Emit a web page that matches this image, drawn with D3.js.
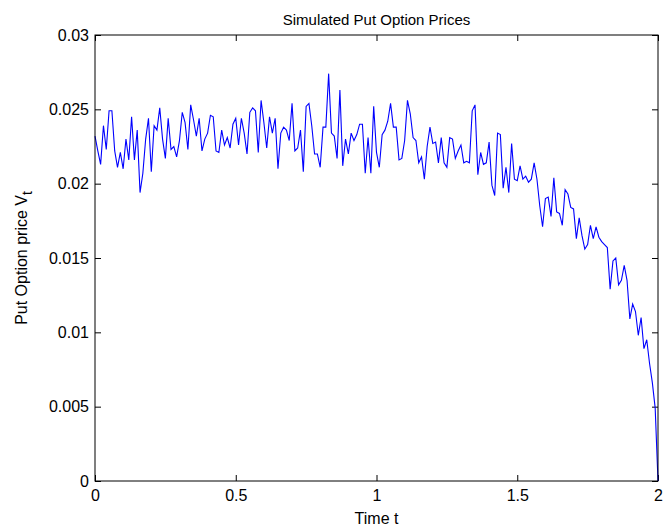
<!DOCTYPE html>
<html>
<head>
<meta charset="utf-8">
<script src="https://cdn.jsdelivr.net/npm/d3@7"></script>
<style>
  body { margin: 0; background: #fff; }
  text { font-family: "Liberation Sans", Arial, Helvetica, sans-serif; }
</style>
</head>
<body>
<div id="chart"></div>
<script>
// Put option price along one simulated path, t = 0 .. 2 (201 samples)
var putPrices = [
  0.0232, 0.0222, 0.0213, 0.0239, 0.0223, 0.0249, 0.0249, 0.0222, 0.0211, 0.0221,
  0.0210, 0.0230, 0.0216, 0.0245, 0.0216, 0.0236, 0.0194, 0.0207, 0.0230, 0.0244,
  0.0208, 0.0239, 0.0236, 0.0251, 0.0230, 0.0217,
  0.0244, 0.0223, 0.0225, 0.0218, 0.0229, 0.0248, 0.0241, 0.0223, 0.0253, 0.0243,
  0.0232, 0.0244, 0.0222, 0.0230, 0.0234, 0.0246, 0.0245, 0.0222, 0.0221, 0.0236,
  0.0226, 0.0231, 0.0224, 0.0240, 0.0244,
  0.0226, 0.0244, 0.0234, 0.0220, 0.0248, 0.0251, 0.0249, 0.0221, 0.0256, 0.0241,
  0.0224, 0.0245, 0.0234, 0.0244, 0.0210, 0.0234, 0.0238, 0.0236, 0.0229, 0.0254,
  0.0222, 0.0224, 0.0236, 0.0208, 0.0252,
  0.0254, 0.0239, 0.0220, 0.0220, 0.0211, 0.0238, 0.0238, 0.0274, 0.0234, 0.0232,
  0.0217, 0.0263, 0.0212, 0.0230, 0.0220, 0.0234, 0.0229, 0.0233, 0.0240, 0.0240,
  0.0207, 0.0231, 0.0207, 0.0252,
  0.0221, 0.0211, 0.0233, 0.0236, 0.0242, 0.0254, 0.0238, 0.0238, 0.0216, 0.0217,
  0.0229, 0.0256, 0.0247, 0.0231, 0.0229, 0.0214, 0.0218, 0.0203, 0.0225, 0.0238,
  0.0227, 0.0228, 0.0214, 0.0231, 0.0214, 0.0211,
  0.0231, 0.0230, 0.0217, 0.0222, 0.0226, 0.0214, 0.0215, 0.0214, 0.0249, 0.0253,
  0.0206, 0.0221, 0.0213, 0.0214, 0.0228, 0.0199, 0.0192, 0.0234, 0.0233, 0.0197,
  0.0211, 0.0194, 0.0227, 0.0203,
  0.0202, 0.0212, 0.0203, 0.0205, 0.0201, 0.0203, 0.0214, 0.0203, 0.0185, 0.0171,
  0.0190, 0.0191, 0.0178, 0.0204, 0.0181, 0.0180, 0.0172, 0.0196, 0.0193, 0.0184,
  0.0183, 0.0163, 0.0177, 0.0165, 0.0156,
  0.0159, 0.0172, 0.0163, 0.0171, 0.0164, 0.0161, 0.0159, 0.0157, 0.0129, 0.0148,
  0.0150, 0.0132, 0.0135, 0.0145, 0.0135, 0.0109, 0.0119, 0.0114, 0.0098, 0.0110,
  0.0089, 0.0095, 0.0079, 0.0066, 0.0049, 0
];

var timeRange = [0, 2];
var priceRange = [0, 0.03];

var xTicks = [0, 0.5, 1, 1.5, 2];
var xTickLabels = ["0", "0.5", "1", "1.5", "2"];
var yTicks = [0, 0.005, 0.01, 0.015, 0.02, 0.025, 0.03];
var yTickLabels = ["0", "0.005", "0.01", "0.015", "0.02", "0.025", "0.03"];

var titleText = "Simulated Put Option Prices";
var xLabelText = "Time t";
var yLabelText = "Put Option price V";

// chart size
var svgWidth = 665;
var svgHeight = 531;
var margin = { top: 35, right: 7, bottom: 50, left: 95 };
var width = svgWidth - margin.left - margin.right;
var height = svgHeight - margin.top - margin.bottom;

var svg = d3.select("#chart")
  .append("svg")
  .attr("width", svgWidth)
  .attr("height", svgHeight);

svg.append("rect")
  .attr("width", svgWidth)
  .attr("height", svgHeight)
  .attr("fill", "#fff");

var chartGroup = svg.append("g")
  .attr("transform", `translate(${margin.left}, ${margin.top})`);

// scales
var xScale = d3.scaleLinear().domain(timeRange).range([0, width]);
var yScale = d3.scaleLinear().domain(priceRange).range([height, 0]);

// samples are evenly spaced in time
var step = (timeRange[1] - timeRange[0]) / (putPrices.length - 1);
var points = putPrices.map(function(v, i) {
  return { t: timeRange[0] + i * step, v: v };
});

// axes, matlab style: inward ticks on all four sides
var fmtX = function(d, i) { return xTickLabels[i]; };
var fmtY = function(d, i) { return yTickLabels[i]; };

var bottomAxis = d3.axisBottom(xScale).tickValues(xTicks).tickFormat(fmtX)
  .tickSizeInner(-6).tickSizeOuter(0).tickPadding(9);
var leftAxis = d3.axisLeft(yScale).tickValues(yTicks).tickFormat(fmtY)
  .tickSizeInner(-6).tickSizeOuter(0).tickPadding(6);
var topAxis = d3.axisTop(xScale).tickValues(xTicks).tickFormat("")
  .tickSizeInner(-6).tickSizeOuter(0);
var rightAxis = d3.axisRight(yScale).tickValues(yTicks).tickFormat("")
  .tickSizeInner(-6).tickSizeOuter(0);

var xAxis = chartGroup.append("g")
  .attr("transform", `translate(0, ${height})`)
  .call(bottomAxis);
var yAxis = chartGroup.append("g").call(leftAxis);
chartGroup.append("g").call(topAxis);
chartGroup.append("g")
  .attr("transform", `translate(${width}, 0)`)
  .call(rightAxis);

chartGroup.selectAll(".domain").remove();
chartGroup.selectAll(".tick line").attr("stroke", "#000");
chartGroup.selectAll(".tick text")
  .attr("fill", "#000")
  .style("font-size", "16px");

// the line itself
var line = d3.line()
  .x(d => xScale(d.t))
  .y(d => yScale(d.v));

chartGroup.append("path")
  .datum(points)
  .attr("d", line)
  .attr("fill", "none")
  .attr("stroke", "#0000ff")
  .attr("stroke-width", 1.1);

// box
chartGroup.append("rect")
  .attr("width", width)
  .attr("height", height)
  .attr("fill", "none")
  .attr("stroke", "#000")
  .attr("stroke-width", 1);

// title + labels
svg.append("text")
  .attr("x", margin.left + width / 2)
  .attr("y", 25)
  .attr("text-anchor", "middle")
  .style("font-size", "15px")
  .text(titleText);

svg.append("text")
  .attr("x", margin.left + width / 2)
  .attr("y", 524)
  .attr("text-anchor", "middle")
  .style("font-size", "16px")
  .text(xLabelText);

var yLabel = svg.append("text")
  .attr("transform", `translate(27, ${margin.top + height / 2}) rotate(-90)`)
  .attr("text-anchor", "middle")
  .style("font-size", "16px");
yLabel.append("tspan").text(yLabelText);
yLabel.append("tspan")
  .attr("dy", 5)
  .style("font-size", "14px")
  .text("t");
</script>
</body>
</html>
